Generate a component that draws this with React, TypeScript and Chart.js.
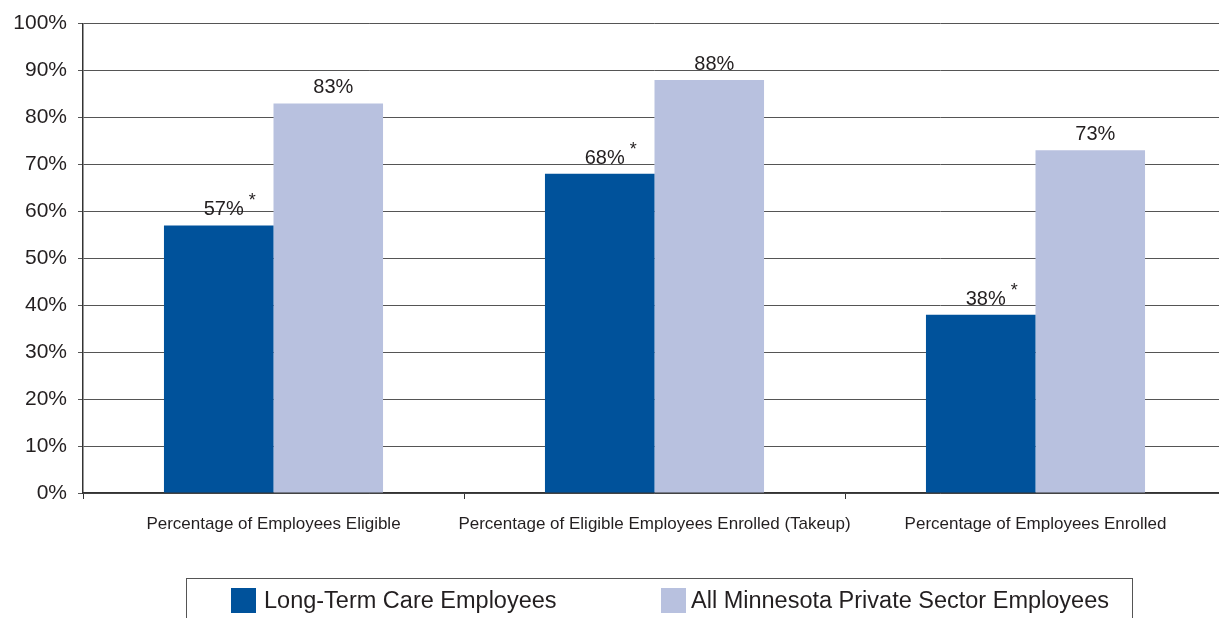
import React, { useEffect, useRef } from "react";
import { Chart, registerables } from "chart.js";

Chart.register(...registerables);

const categories = [
  "Percentage of Employees Eligible",
  "Percentage of Eligible Employees Enrolled (Takeup)",
  "Percentage of Employees Enrolled",
];
const seriesNames = ["Long-Term Care Employees", "All Minnesota Private Sector Employees"];
const longTermCare = [57, 68, 38];
const allMinnesota = [83, 88, 73];
const significant = [true, true, true];
const seriesColors = ["#00529b", "#b8c1df"];
const yTicks = [0, 10, 20, 30, 40, 50, 60, 70, 80, 90, 100];

const FONT = "'Liberation Sans', Arial, Helvetica, sans-serif";
const TEXT = "#231f20";

const labelPlugin = {
  id: "valueLabels",
  afterDatasetsDraw(chart: any) {
    const ctx = chart.ctx;
    ctx.save();
    chart.data.datasets.forEach((ds: any, di: number) => {
      const meta = chart.getDatasetMeta(di);
      meta.data.forEach((bar: any, i: number) => {
        const txt = ds.data[i] + "%";
        ctx.font = `20px ${FONT}`;
        ctx.fillStyle = TEXT;
        ctx.textAlign = "center";
        ctx.textBaseline = "alphabetic";
        const cx = bar.x + 5;
        const by = bar.y - 10;
        ctx.fillText(txt, cx, by);
        if (di === 0 && significant[i]) {
          const w = ctx.measureText(txt).width;
          ctx.font = `18px ${FONT}`;
          ctx.textAlign = "left";
          ctx.fillText("*", cx + w / 2 + 5, by - 9);
        }
      });
    });
    ctx.restore();
  },
};

const legendPlugin = {
  id: "boxLegend",
  afterDraw(chart: any) {
    const ctx = chart.ctx;
    ctx.save();
    ctx.strokeStyle = "#555";
    ctx.lineWidth = 1;
    ctx.strokeRect(186.5, 578.5, 946, 60);
    const items = [
      { x: 231, tx: 264 },
      { x: 661, tx: 691 },
    ];
    chart.data.datasets.forEach((ds: any, i: number) => {
      const it = items[i];
      ctx.fillStyle = ds.backgroundColor;
      ctx.fillRect(it.x, 588, 25, 25);
      ctx.fillStyle = TEXT;
      ctx.font = `23.5px ${FONT}`;
      ctx.textAlign = "left";
      ctx.textBaseline = "alphabetic";
      ctx.fillText(ds.label, it.tx, 608);
    });
    ctx.restore();
  },
};

export default function App() {
  const ref = useRef<HTMLCanvasElement>(null);
  useEffect(() => {
    document.body.style.margin = "0";
    const chart = new Chart(ref.current!, {
      type: "bar",
      data: {
        labels: categories,
        datasets: [
          { label: seriesNames[0], data: longTermCare, backgroundColor: seriesColors[0] },
          { label: seriesNames[1], data: allMinnesota, backgroundColor: seriesColors[1] },
        ],
      },
      options: {
        responsive: false,
        animation: false,
        devicePixelRatio: 1,
        layout: { padding: { top: 23, right: 4, left: 0, bottom: 0 } },
        datasets: { bar: { categoryPercentage: 0.575, barPercentage: 1 } },
        plugins: { legend: { display: false }, tooltip: { enabled: false } },
        scales: {
          x: {
            grid: { drawOnChartArea: false, drawTicks: true, tickLength: 6, color: "#333", offset: true },
            border: { color: "#333", width: 1.5 },
            ticks: { font: { family: FONT, size: 17 }, color: TEXT, padding: 15, maxRotation: 0, autoSkip: false },
            afterFit(scale: any) { scale.height = 125; },
          },
          y: {
            min: 0,
            max: 100,
            afterBuildTicks(scale: any) { scale.ticks = yTicks.map((v) => ({ value: v })); },
            grid: { color: "#555", lineWidth: 1, tickLength: 5, drawTicks: true },
            border: { color: "#333", width: 1.5 },
            ticks: {
              font: { family: FONT, size: 21 },
              color: TEXT,
              padding: 11,
              callback: (v: any) => v + "%",
            },
            afterFit(scale: any) { scale.width = 83; },
          },
        },
      },
      plugins: [labelPlugin, legendPlugin],
    });
    return () => chart.destroy();
  }, []);
  return (
    <div style={{ position: "fixed", left: 0, top: 0, width: 1219, height: 618, overflow: "hidden", background: "#fff" }}>
      <canvas ref={ref} width={1230} height={618} style={{ width: 1230, height: 618 }} />
    </div>
  );
}
